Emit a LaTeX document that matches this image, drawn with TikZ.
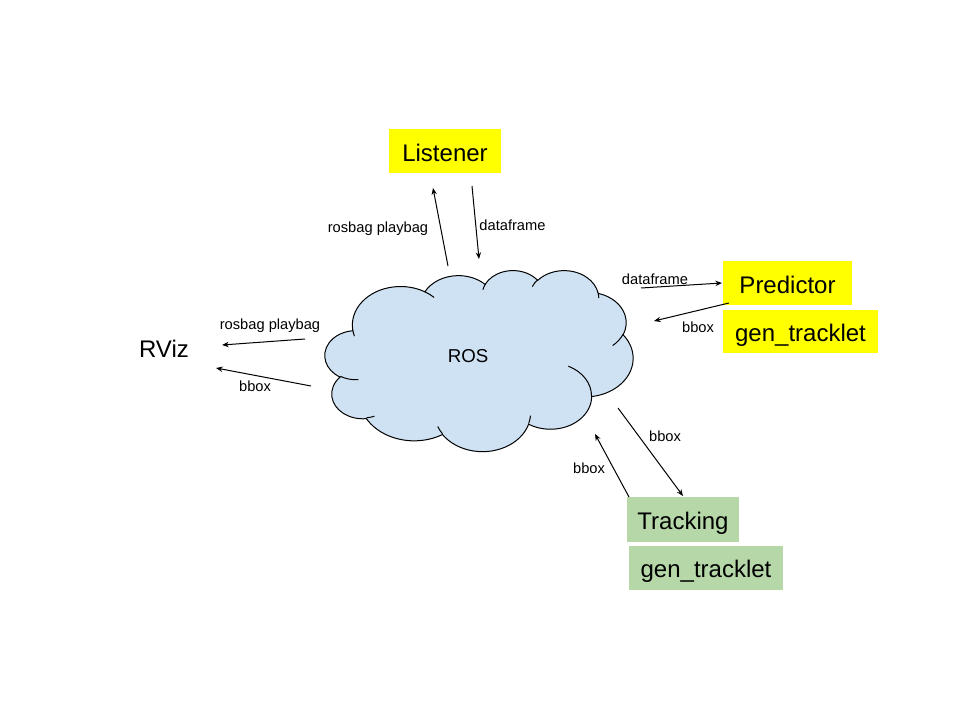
\documentclass[tikz,border=0pt]{standalone}
\usepackage{fontspec}
\setmainfont{Liberation Sans}
\usetikzlibrary{arrows.meta}
\definecolor{ylw}{HTML}{FFFF00}
\definecolor{grn}{HTML}{B6D7A8}
\definecolor{cld}{HTML}{CFE2F3}
\begin{document}
\begin{tikzpicture}[x=0.75pt,y=-0.75pt,
  boxnode/.style={inner sep=0pt, font=\fontsize{18}{21}\selectfont, text height=17.7pt, text depth=2.3pt},
  lbl/.style={inner sep=0pt, font=\fontsize{11}{13}\selectfont},
  arr/.style={-{Stealth[length=5pt,width=4pt]}, line width=0.75pt},
  cloudline/.style={line width=0.75pt, draw=black}]
\useasboundingbox (0,0) rectangle (960,720);

% cloud (Office-style preset, 43.2 x 43.2 units)
\begin{scope}[shift={(325,270)}, xscale=7.1296, yscale=4.1898]
\draw[cloudline, fill=cld] (3.900,14.370)
  arc[x radius=6.753, y radius=9.190, start angle=172.25, end angle=300.37]
  arc[x radius=5.333, y radius=7.267, start angle=-152.02, end angle=-45.45]
  arc[x radius=4.365, y radius=5.945, start angle=-153.49, end angle=-37.31]
  arc[x radius=4.857, y radius=6.595, start angle=-139.72, end angle=-10.21]
  arc[x radius=5.333, y radius=7.273, start angle=-74.77, end angle=23.21]
  arc[x radius=6.775, y radius=9.220, start angle=-37.54, end angle=81.87]
  arc[x radius=5.785, y radius=7.867, start angle=0.46, end angle=121.99]
  arc[x radius=6.752, y radius=9.215, start angle=16.85, end angle=146.23]
  arc[x radius=7.720, y radius=10.543, start angle=58.98, end angle=150.19]
  arc[x radius=4.360, y radius=5.918, start angle=83.30, end angle=223.10]
  arc[x radius=4.345, y radius=5.945, start angle=120.36, end angle=264.11]
  -- cycle;
\draw[cloudline] (4.693,26.177) arc[x radius=4.345, y radius=5.945, start angle=85.55, end angle=120.36];
\draw[cloudline] (6.928,34.899) arc[x radius=4.360, y radius=5.918, start angle=68.23, end angle=83.30];
\draw[cloudline] (16.478,39.090) arc[x radius=6.752, y radius=9.215, start angle=146.23, end angle=158.47];
\draw[cloudline] (28.827,34.751) arc[x radius=6.752, y radius=9.215, start angle=4.74, end angle=16.85];
\draw[cloudline] (34.129,22.954) arc[x radius=5.785, y radius=7.867, start angle=-64.03, end angle=0.46];
\draw[cloudline] (41.798,15.354) arc[x radius=5.333, y radius=7.273, start angle=23.21, end angle=49.64];
\draw[cloudline] (38.324,5.426) arc[x radius=4.857, y radius=6.595, start angle=-10.21, end angle=0.82];
\draw[cloudline] (29.078,3.952) arc[x radius=4.857, y radius=6.595, start angle=-156.27, end angle=-139.72];
\draw[cloudline] (22.141,4.720) arc[x radius=4.365, y radius=5.945, start angle=-167.73, end angle=-153.49];
\draw[cloudline] (14.000,5.192) arc[x radius=6.753, y radius=9.190, start angle=-59.64, end angle=-45.75];
\draw[cloudline] (4.127,15.789) arc[x radius=6.753, y radius=9.190, start angle=163.20, end angle=172.25];
\end{scope}
\node[inner sep=0pt, font=\fontsize{14}{16}\selectfont] (ros) at (468,356.5) {ROS};

% boxes
\node[boxnode, fill=ylw, minimum width=84pt, minimum height=33pt] (listener) at (445,151) {Listener};
\node[boxnode, fill=ylw, minimum width=96.75pt, minimum height=33pt] (predictor) at (787.5,283) {Predictor};
\node[boxnode, fill=ylw, minimum width=116.25pt, minimum height=32.25pt] (gentY) at (800.5,331.5) {gen\_tracklet};
\node[boxnode, fill=grn, minimum width=84pt, minimum height=33.75pt] (tracking) at (683,519) {Tracking};
\node[boxnode, fill=grn, minimum width=115.5pt, minimum height=33pt] (gentG) at (706,567.5) {gen\_tracklet};
\node[inner sep=0pt, font=\fontsize{18}{21}\selectfont] (rviz) at (164,349) {RViz};

% arrow end points
\coordinate (a1s) at (448,266); \coordinate (a1e) at (433,188);
\coordinate (a2s) at (472,186); \coordinate (a2e) at (479,259);
\coordinate (a3s) at (641,288); \coordinate (a3e) at (722,283);
\coordinate (a4s) at (729,303); \coordinate (a4e) at (654,321);
\coordinate (a5s) at (305,339); \coordinate (a5e) at (222,345);
\coordinate (a6s) at (311,386); \coordinate (a6e) at (216,368);
\coordinate (a7s) at (618,408); \coordinate (a7e) at (683,496);
\coordinate (a8s) at (629,497); \coordinate (a8e) at (595,434);

\draw[arr] (a1s) -- (a1e);
\draw[arr] (a2s) -- (a2e);
\draw[arr] (a3s) -- (a3e);
\draw[arr] (a4s) -- (a4e);
\draw[arr] (a5s) -- (a5e);
\draw[arr] (a6s) -- (a6e);
\draw[arr] (a7s) -- (a7e);
\draw[arr] (a8s) -- (a8e);

% labels
\node[lbl] (l1) at (378,229) {rosbag playbag};
\node[lbl] (l2) at (512.5,225) {dataframe};
\node[lbl] (l3) at (655,279) {dataframe};
\node[lbl] (l4) at (698,327) {bbox};
\node[lbl] (l5) at (270,326) {rosbag playbag};
\node[lbl] (l6) at (255,386) {bbox};
\node[lbl] (l7) at (665,436) {bbox};
\node[lbl] (l8) at (589,468) {bbox};
\end{tikzpicture}
\end{document}
